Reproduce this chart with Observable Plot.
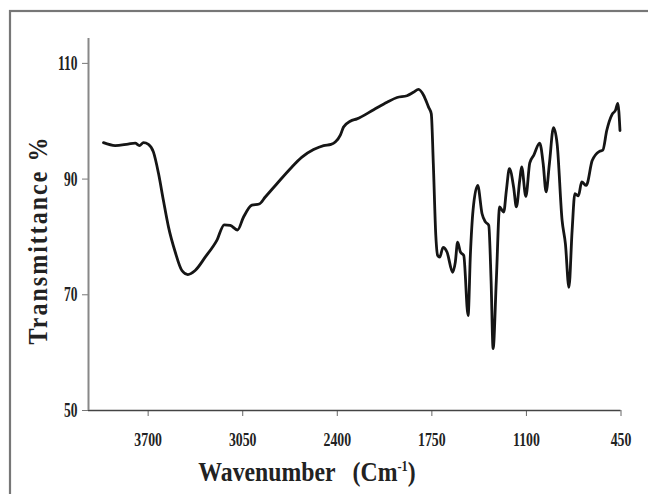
<!DOCTYPE html>
<html><head><meta charset="utf-8">
<script src="https://cdn.jsdelivr.net/npm/d3@7"></script>
<script src="https://cdn.jsdelivr.net/npm/@observablehq/plot@0.6"></script>
<style>body{margin:0;background:#fff}</style>
</head><body><div id="chart"></div>
<script>
const wavenumber = [
  4007,3927,3838,3789,3760,3732,3698,3664,3629,3595,
  3560,3514,3468,3427,3377,3308,3228,3177,3136,3086,
  3045,2987,2937,2895,2815,2723,2643,2563,2494,2443,
  2414,2379,2357,2311,2265,2150,2058,1989,1921,1877,
  1841,1807,1772,1754,1740,1723,1710,1696,1673,1646,
  1607,1589,1573,1554,1531,1501,1485,1467,1435,1405,
  1382,1359,1343,1329,1307,1284,1267,1256,1238,1217,
  1188,1169,1146,1133,1104,1077,1050,1009,985,965,
  942,914,889,855,832,808,786,767,743,720,
  689,648,598,575,548,511,488,472,457];
const transmittance = [
  96.3,95.8,96.05,96.2,95.8,96.3,96.0,94.7,91.0,86.3,
  81.7,77.4,74.2,73.5,74.2,76.5,79.4,82.1,82.0,81.2,
  83.4,85.5,85.7,86.9,89.2,91.8,93.8,95.1,95.8,96.0,
  96.4,97.6,99.0,100.0,100.4,102.0,103.3,104.1,104.4,105.0,
  105.5,104.5,102.4,101.3,92.7,80.3,76.8,76.5,78.2,77.4,
  73.9,75.6,79.1,77.4,76.8,66.4,77.1,84.6,88.9,84.0,
  82.6,82.0,72.5,60.7,72.5,85.2,84.6,84.3,88.0,91.8,
  88.6,85.2,89.8,92.1,87.0,92.8,94.1,96.2,92.7,87.8,
  92.7,98.9,96.1,82.9,78.8,71.3,81.1,87.5,87.1,89.5,
  88.9,93.2,94.8,95.0,98.4,101.2,101.9,103.1,98.4];
const xTicks = [3700, 3050, 2400, 1750, 1100, 450];
const yTicks = [50, 70, 90, 110];
const xDomain = [4110, 450];
const yDomain = [50, 114.3];
const xTitle = "Wavenumber";
const yTitle = "Transmittance %";

const data = wavenumber.map((w, i) => ({wn: w, t: transmittance[i]}));

const chart = Plot.plot({
  width: 648, height: 494,
  marginLeft: 88, marginRight: 27.5, marginTop: 38, marginBottom: 84,
  style: {fontFamily: "'Liberation Serif', serif", fontWeight: "bold", fontSize: "15px", color: "#222", background: "#fff", overflow: "visible"},
  x: {domain: xDomain},
  y: {domain: yDomain},
  marks: [
    Plot.axisX({ticks: xTicks, tickSize: 6, tickPadding: 16, label: null, stroke: "#666", tickFormat: d => String(d)}),
    Plot.axisY({ticks: yTicks, tickSize: 6, tickPadding: 5, label: null, stroke: "#777", tickFormat: d => String(d)}),
    Plot.ruleY([yDomain[0]], {stroke: "#444", strokeWidth: 1.6}),
    Plot.ruleX([xDomain[0]], {stroke: "#888", strokeWidth: 2}),
    Plot.line(data, {x: "wn", y: "t", stroke: "#151515", strokeWidth: 2.8, curve: "monotone-x", strokeLinejoin: "round"})
  ]
});
document.getElementById("chart").appendChild(chart);

const svg = d3.select(chart);
svg.selectAll('g[aria-label="x-axis tick label"] text').attr("transform", function() {
  return (this.getAttribute("transform") || "") + " scale(0.92,1.3)";
});
svg.selectAll('g[aria-label="y-axis tick label"] text').attr("transform", function() {
  return (this.getAttribute("transform") || "") + " scale(0.9,1.35)";
});
// frame
svg.append("rect").attr("x", 10).attr("y", 11).attr("width", 700).attr("height", 600)
  .attr("fill", "none").attr("stroke", "#777").attr("stroke-width", 2.2);
// y title
svg.append("text")
  .attr("transform", "translate(38,240) rotate(-90) scale(1,1.1)")
  .attr("text-anchor", "middle").attr("dy", "0.35em")
  .attr("font-size", 24).attr("font-weight", "bold").attr("letter-spacing", "2px")
  .attr("fill", "#222").text(yTitle);
// x title
const xt = svg.append("text")
  .attr("transform", "translate(307,471) scale(0.95,1.12)")
  .attr("text-anchor", "middle").attr("dy", "0.35em")
  .attr("font-size", 25).attr("font-weight", "bold").attr("fill", "#222");
xt.append("tspan").text(xTitle);
xt.append("tspan").attr("dx", 18).text("(Cm");
xt.append("tspan").attr("dy", -9).attr("font-size", 13).text("-1");
xt.append("tspan").attr("dy", 9).text(")");
</script>
</body></html>
